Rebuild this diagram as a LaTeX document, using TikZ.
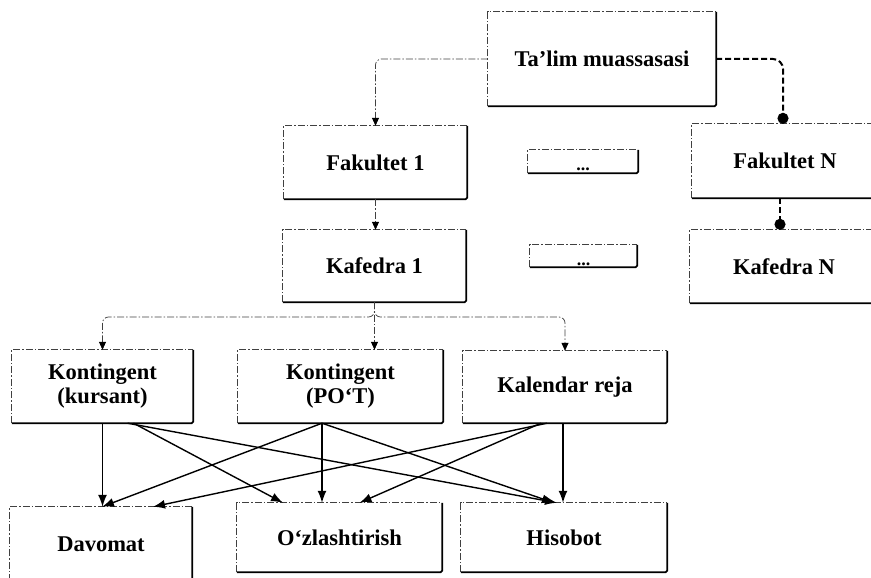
\documentclass[tikz,border=0pt]{standalone}
\usepackage{fontspec}
\setmainfont{Liberation Serif}
\usetikzlibrary{arrows.meta}

\begin{document}
\begin{tikzpicture}[x=1pt,y=-1pt,
  box/.style={rectangle, inner sep=0pt, align=center,
    font=\fontsize{22.5}{24}\selectfont\bfseries},
  gapbox/.style={rectangle, inner sep=1pt, text height=19pt, text depth=1pt,
    font=\fontsize{18}{18}\selectfont\bfseries},
  litedge/.style={line width=0.7pt, black!75,
    dash pattern=on 7pt off 2pt on 1.5pt off 2pt},
  heavyedge/.style={line width=1.8pt, black, rounded corners=1.5pt},
  tree/.style={litedge, rounded corners=6pt,
    -{Triangle[length=8pt,width=7pt,color=black,fill=black]}},
  link/.style={line width=2pt, dash pattern=on 6pt off 3pt, rounded corners=10pt,
    -{Circle[length=11pt]}},
  flow/.style={line width=1.4pt, -{Latex[length=12pt,width=9pt]}}
]
\useasboundingbox (0,0) rectangle (871,578);
\clip (0,0) rectangle (871,578);

% organisational levels
\node[box, minimum width=228pt, minimum height=94pt] (talim) at (602,59) {Ta'lim muassasasi};
\node[box, minimum width=183pt, minimum height=73pt] (fak1) at (375.5,162.5) {Fakultet 1};
\node[box, minimum width=183pt, minimum height=72pt] (kaf1) at (374.5,266) {Kafedra 1};
\node[gapbox, minimum width=110pt, minimum height=23pt] (dotsa) at (583,161.5) {...};
\node[gapbox, minimum width=107pt, minimum height=22pt] (dotsb) at (583.5,256) {...};
\node[box, minimum width=186pt, minimum height=74pt] (fakN) at (785,161) {Fakultet N};
\node[box, minimum width=188pt, minimum height=73pt] (kafN) at (784,266.5) {Kafedra N};

% department data
\node[box, minimum width=181pt, minimum height=73pt] (kk) at (102.5,386.5) {Kontingent\\(kursant)};
\node[box, minimum width=205pt, minimum height=73pt] (kp) at (340.5,386.5) {Kontingent\\(PO‘T)};
\node[box, minimum width=204pt, minimum height=72pt] (kr) at (565,387) {Kalendar reja};

% outputs
\node[box, minimum width=182pt, minimum height=74pt] (dav) at (101,544) {Davomat};
\node[box, minimum width=205pt, minimum height=69pt] (ozl) at (339.5,537.5) {O‘zlashtirish};
\node[box, minimum width=206pt, minimum height=69pt] (his) at (564,537.5) {Hisobot};

% box outlines: light dash-dot left/top, heavy right/bottom
\foreach \n in {talim,fak1,kaf1,dotsa,dotsb,fakN,kafN,kk,kp,kr,dav,ozl,his}{
  \draw[litedge] (\n.south west) |- (\n.north east);
  \draw[heavyedge] (\n.north east) |- (\n.south west);
}

% hierarchy connectors
\draw[tree] (talim.west) -| (fak1.north);
\draw[tree] (fak1.south) -- (fak1.south |- kaf1.north);
\coordinate (bus) at (374,317);
\draw[tree] (kaf1.south) |- (bus -| kk.north) -- (kk.north);
\draw[tree] (kaf1.south) |- (bus -| kr.north) -- (kr.north);
\draw[tree] (kaf1.south) -- (kaf1.south |- kp.north);

\draw[link] (talim.east) -| ([xshift=-2pt]fakN.north);
\draw[link] ([xshift=-5pt]fakN.south) -- ([xshift=-5pt]fakN.south |- kafN.north);

% data flows
\draw[flow] (kk.south) -- (kk.south |- dav.north);
\draw[flow] ([xshift=31pt]kk.south) -- ([xshift=-56.5pt]ozl.north);
\draw[flow] ([xshift=25pt]kk.south) -- ([xshift=-7pt]his.north);

\draw[flow] ([xshift=-18.5pt]kp.south) -- ([xshift=1pt]dav.north);
\draw[flow] ([xshift=-18.5pt]kp.south) -- ([xshift=-17.5pt]ozl.north);
\draw[flow] ([xshift=-18.5pt]kp.south) -- ([xshift=-10pt]his.north);

\draw[flow] ([xshift=-18pt]kr.south) -- ([xshift=52pt]dav.north);
\draw[flow] ([xshift=-24pt]kr.south) -- ([xshift=20pt]ozl.north);
\draw[flow] ([xshift=-2pt]kr.south) -- ([xshift=-2pt]kr.south |- his.north);
\end{tikzpicture}
\end{document}
